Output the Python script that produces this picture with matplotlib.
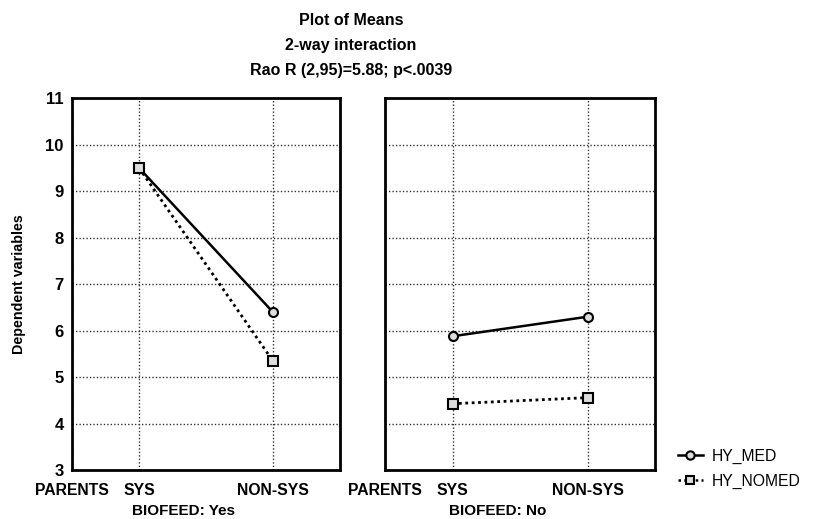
import matplotlib
matplotlib.use("Agg")
import matplotlib.pyplot as plt
from matplotlib.lines import Line2D
import matplotlib.transforms as mtransforms

plt.rcParams['font.family'] = ['Liberation Sans', 'DejaVu Sans']

categories = ["SYS", "NON-SYS"]
cat_pos = [1, 3]
factor_label = "PARENTS"
panels = ["BIOFEED: Yes", "BIOFEED: No"]
hy_med = [[9.5, 6.40], [5.88, 6.30]]
hy_nomed = [[9.5, 5.35], [4.43, 4.56]]
yticks = [3, 4, 5, 6, 7, 8, 9, 10, 11]

fig = plt.figure(figsize=(8.14, 5.19), dpi=100)
axes_rects = [[0.0885, 0.094, 0.329, 0.717], [0.473, 0.094, 0.332, 0.717]]

for i, rect in enumerate(axes_rects):
    ax = fig.add_axes(rect)
    ax.set_xlim(0, 4)
    ax.set_ylim(3, 11)
    ax.set_yticks(yticks)
    ax.set_xticks([0] + cat_pos)
    ax.set_xticklabels([factor_label] + categories, fontweight='bold', fontsize=11.3)
    if i == 0:
        ax.set_yticklabels([str(v) for v in yticks], fontweight='bold', fontsize=12)
        ax.set_ylabel("Dependent variables", fontsize=10.3, fontweight='bold', labelpad=14)
    else:
        ax.set_yticklabels([])
    ax.tick_params(axis='x', length=0, pad=9)
    ax.tick_params(axis='y', length=0, pad=6)
    ax.grid(True, color='#333333', linestyle=(0, (1, 1.5)), linewidth=1.0)
    for s in ax.spines.values():
        s.set_linewidth(2.0)
        s.set_color('black')
    ax.plot(cat_pos, hy_med[i], color='black', lw=1.8, marker='o', ms=6.5,
            mfc='#dddddd', mec='black', mew=1.5, zorder=3)
    ax.plot(cat_pos, hy_nomed[i], color='black', lw=2.0, linestyle=(0, (1, 1.3)),
            marker='s', ms=7, mfc='#dddddd', mec='black', mew=1.5, zorder=3)
    trans = mtransforms.blended_transform_factory(ax.transData, ax.transAxes)
    ax.text(1.67, -0.11, panels[i], transform=trans, ha='center', va='center',
            fontsize=11, fontweight='bold')

fig.text(0.431, 0.961, "Plot of Means", ha='center', va='center', fontsize=11.5, fontweight='bold')
fig.text(0.431, 0.913, "2-way interaction", ha='center', va='center', fontsize=11.5, fontweight='bold')
fig.text(0.431, 0.865, "Rao R (2,95)=5.88; p<.0039", ha='center', va='center', fontsize=11.5, fontweight='bold')

handles = [
    Line2D([], [], color='black', lw=1.8, marker='o', ms=6, mfc='#dddddd', mec='black', mew=1.5),
    Line2D([], [], color='black', lw=1.8, linestyle=(0, (1, 1.3)), marker='s', ms=6,
           mfc='#dddddd', mec='black', mew=1.5),
]
fig.legend(handles, ["HY_MED", "HY_NOMED"], loc='center left', bbox_to_anchor=(0.815, 0.097),
           frameon=False, fontsize=11.3, handlelength=1.6, handletextpad=0.6, labelspacing=0.6)

fig.savefig("out.png", dpi=100)
